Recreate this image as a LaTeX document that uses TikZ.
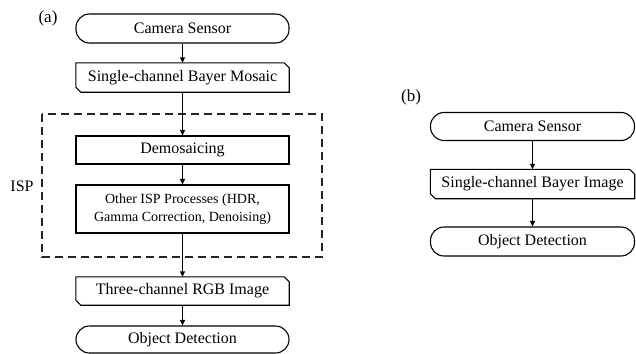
\documentclass[tikz,border=0pt]{standalone}
\usepackage{fontspec}
\setmainfont{Liberation Serif}
\usetikzlibrary{arrows.meta}

\tikzset{
  flowtext/.style={font=\fontsize{16}{19}\selectfont, inner sep=0pt},
  terminal/.style={flowtext, draw, line width=1.1pt, rounded corners=13.5pt, fill=white},
  processbox/.style={flowtext, draw, line width=1.1pt, fill=white},
  databox/.style={flowtext},
  flowarrow/.style={line width=1pt, -{Triangle[length=5.5pt,width=5pt]}},
  ispframe/.style={line width=1.4pt, draw=black!85, dash pattern=on 8pt off 5pt},
  panellabel/.style={font=\fontsize{17}{20}\selectfont, inner sep=0pt}
}

% outline of a data box with cut top-right and bottom-left corners
\newcommand{\chamferoutline}[1]{%
  \draw[line width=1.1pt, fill=white]
    (#1.north west) -- ([xshift=-5pt]#1.north east) -- ([yshift=-5pt]#1.north east)
    -- (#1.south east) -- ([xshift=5pt]#1.south west) -- ([yshift=5pt]#1.south west) -- cycle;}

\begin{document}
\begin{tikzpicture}[x=1pt, y=-1pt]
\useasboundingbox (0,0) rectangle (636,353);

% ---------- (a) conventional pipeline ----------
\node[panellabel] (la) at (48,18) {(a)};

\draw[ispframe] (42,114) rectangle (322,257);
\node[flowtext] (isp) at (22,186) {ISP};

\node[terminal, minimum width=213pt, minimum height=29pt] (camA) at (182.5,28.5) {Camera Sensor};
\node[databox, minimum width=213pt, minimum height=29pt] (bayA) at (182.5,77.5) {};
\chamferoutline{bayA}
\node[flowtext] at (bayA) {Single-channel Bayer Mosaic};
\node[processbox, minimum width=213pt, minimum height=28pt] (demA) at (182.5,150) {Demosaicing};
\node[processbox, minimum width=213pt, minimum height=48pt, align=center,
      font=\fontsize{14}{17.5}\selectfont] (othA) at (182.5,209)
      {Other ISP Processes (HDR,\\Gamma Correction, Denoising)};
\node[databox, minimum width=213pt, minimum height=28pt] (rgbA) at (182.5,291) {};
\chamferoutline{rgbA}
\node[flowtext] at (rgbA) {Three-channel RGB Image};
\node[terminal, minimum width=213pt, minimum height=27pt] (objA) at (182.5,339.5) {Object Detection};

\draw[flowarrow] (camA) -- (bayA);
\draw[flowarrow] (bayA) -- (demA);
\draw[flowarrow] (demA) -- (othA);
\draw[flowarrow] (othA) -- (rgbA);
\draw[flowarrow] (rgbA) -- (objA);

% ---------- (b) raw pipeline ----------
\node[panellabel] (lb) at (411,97) {(b)};

\node[terminal, minimum width=204pt, minimum height=28pt] (camB) at (532.5,126.5) {Camera Sensor};
\node[databox, minimum width=204pt, minimum height=29pt] (bayB) at (532.5,184) {};
\chamferoutline{bayB}
\node[flowtext] at (bayB) {Single-channel Bayer Image};
\node[terminal, minimum width=204pt, minimum height=29pt] (objB) at (532.5,241.5) {Object Detection};

\draw[flowarrow] (camB) -- (bayB);
\draw[flowarrow] (bayB) -- (objB);
\end{tikzpicture}
\end{document}
